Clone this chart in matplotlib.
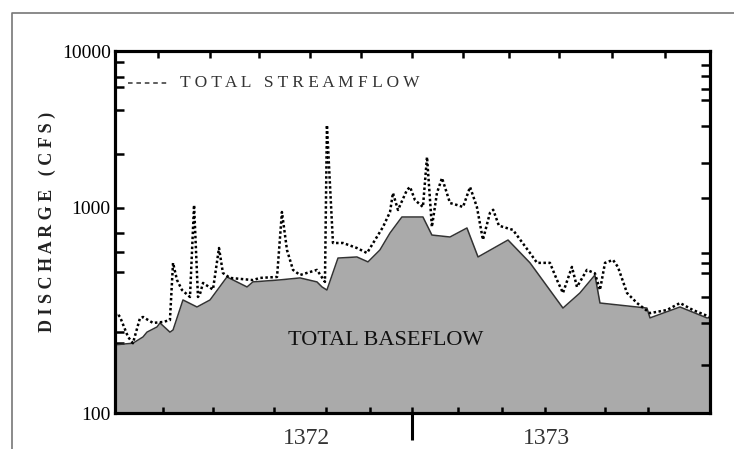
import numpy as np
import matplotlib
matplotlib.use('Agg')
import matplotlib.pyplot as plt
from matplotlib.lines import Line2D

plt.rcParams['font.family'] = ['Liberation Serif', 'DejaVu Serif']

# streamflow (day of period, cfs)
flow_day = [0, 1.2, 3.1, 8, 11, 15.3, 17.2, 23.3, 29.4, 33.7, 35.6, 38, 41.1, 46, 48.5,
            50.9, 52.1, 54, 60.1, 63.8, 66.2, 70.5, 84.6, 88.9, 99.4, 102.4, 105.5, 109.2,
            113.5, 123.9, 128.8, 130, 133.7, 139.9, 148.4, 154.6, 164.4, 168.7, 170.5, 173.6,
            179.1, 181, 184, 188.9, 191.4, 194.4, 197.5, 200.6, 205.5, 209.8, 213.5, 217.8,
            222, 225.7, 230, 232, 235.5, 244.1, 254.6, 258.9, 266.8, 271.1, 274.8, 280.3,
            283.4, 289.5, 294.4, 297.5, 300.6, 305.5, 308.5, 314.1, 320.2, 328.2, 338.6,
            346.6, 354.5, 365]
flow_cfs = [300, 307, 294, 235, 219, 290, 294, 275, 278, 284, 540, 446, 398, 368, 1045,
            368, 380, 431, 400, 638, 482, 456, 445, 456, 461, 956, 624, 499,
            471, 499, 436, 3380, 675, 675, 638, 603, 808, 956, 1247, 978,
            1303, 1361, 1124, 1015, 2113, 808, 1247, 1553, 1076, 1045, 1015, 1361,
            1015, 700, 946, 980, 820, 782, 603, 540, 540, 446, 385, 516,
            412, 499, 480, 398, 540, 558, 516, 385, 344, 307, 318,
            344, 318, 294]

# baseflow
base_day = [0, 11, 17.2, 19.6, 25.8, 27.6, 33.7, 35.6, 41.7, 50.3, 58.3, 68.7, 81, 84.6,
            101.2, 113.5, 123.9, 127, 130, 136.8, 148.4, 155.2, 162.5, 168.7, 176, 188.9,
            194.4, 205.5, 215.9, 222.7, 241.1, 254.6, 274.8, 285.2, 294.4, 297.5, 326.3,
            328.2, 346.6, 363.1, 365]
base_cfs = [215, 219, 235, 248, 263, 275, 248, 254, 356, 329, 356, 461, 412, 436,
            446, 456, 436, 412, 398, 570, 577, 546, 624, 755, 904, 904,
            738, 722, 799, 577, 698, 540, 325, 385, 471, 344, 325,
            291, 329, 291, 291]

year_labels = ['1372', '1373']
year_pos = [117.2, 264.4]
year_split = 182.2
y_major = [100, 1000, 10000]
y_major_labels = ['100', '1000', '10000']
y_minor_left = [8500, 6800, 5900, 4200, 2200, 755, 610, 487, 248, 219]
y_ticks_right = [8150, 6900, 5700, 4870, 3330, 1940, 1160, 603, 537, 480, 368, 275, 171]
x_ticks_top = [26.4, 58.3, 88.3, 119.6, 150.9, 182.2, 213.5, 241.7, 272.3, 304.9, 337.4]
x_ticks_bottom = [29.4, 60.1, 97.5, 129.4, 156.4, 182.2, 210.4, 237.4, 263.8, 300.6, 326.9]


# uneven log axis of the scanned original
def fwd(v):
    l = np.log10(np.clip(v, 1e-6, None))
    return np.where(l < 3, (l - 2) * 205, 205 + (l - 3) * 157)


def inv(t):
    t = np.asarray(t, dtype=float)
    return np.where(t < 205, 10 ** (2 + t / 205), 10 ** (3 + (t - 205) / 157))


fig = plt.figure(figsize=(7.34, 4.49), dpi=100)
ax = fig.add_axes([115 / 734, 1 - 413 / 449, 595 / 734, 362 / 449])

ax.set_yscale('function', functions=(fwd, inv))
ax.fill_between(base_day, 100, base_cfs, color='#aaaaaa', lw=0)
ax.plot(base_day, base_cfs, color='#333333', lw=1.1)
ax.plot(flow_day, flow_cfs, color='black', lw=1.8, linestyle=(0, (1, 1.0)))
ax.set_xlim(0, 365)
ax.set_ylim(100, 10000)

ax.set_yticks(y_major, labels=y_major_labels)
ax.set_yticks(y_minor_left, minor=True)
ax.tick_params(axis='y', which='both', direction='in', length=6.5, width=1.8,
               labelsize=14, pad=3, right=False)
ax.set_xticks([year_split], labels=[''])
ax.set_xticks(x_ticks_bottom, minor=True)
ax.xaxis.remove_overlapping_locs = False
ax.tick_params(axis='x', which='minor', direction='in', length=4.5, width=1.8, top=False)
ax.tick_params(axis='x', which='major', direction='out', length=19.5, width=2.2, top=False)

for xp, lab in zip(year_pos, year_labels):
    ax.text(xp, -0.07, lab, transform=ax.get_xaxis_transform(), ha='center', va='center',
            fontsize=17, color='#333333')

axt = ax.twiny()
axt.set_xlim(0, 365)
axt.set_xticks(x_ticks_top, labels=[''] * len(x_ticks_top))
axt.tick_params(axis='x', direction='in', length=5, width=1.8, top=True, bottom=False)

axr = ax.twinx()
axr.set_yscale('function', functions=(fwd, inv))
axr.set_ylim(100, 10000)
axr.set_yticks(y_ticks_right, labels=[''] * len(y_ticks_right))
axr.tick_params(axis='y', direction='in', length=6.5, width=1.8, right=True, left=False)

for a in (ax, axt, axr):
    for s in a.spines.values():
        s.set_linewidth(2.2)

# legend line and labels
ax.plot([0.022, 0.089], [0.912, 0.912], transform=ax.transAxes, color='#333333',
        lw=1.1, linestyle=(0, (3, 2.5)))
ax.text(0.109, 0.912, 'T O T A L   S T R E A M F L O W', transform=ax.transAxes,
        ha='left', va='center', fontsize=12.5, color='#333333')
ax.text(0.455, 0.199, 'TOTAL BASEFLOW', transform=ax.transAxes, ha='center',
        va='center', fontsize=16, color='#111111')
fig.text(47 / 734, 1 - 222 / 449, 'D I S C H A R G E   ( C F S )', rotation=90,
         ha='center', va='center', fontsize=13, fontweight='bold', color='#222222')

# outer frame of the scan
fig.add_artist(Line2D([12 / 734, 12 / 734, 1.0], [0, 1 - 13 / 449, 1 - 13 / 449],
                      transform=fig.transFigure, color='#777777', lw=1.2))

fig.savefig('out.png', dpi=100)
